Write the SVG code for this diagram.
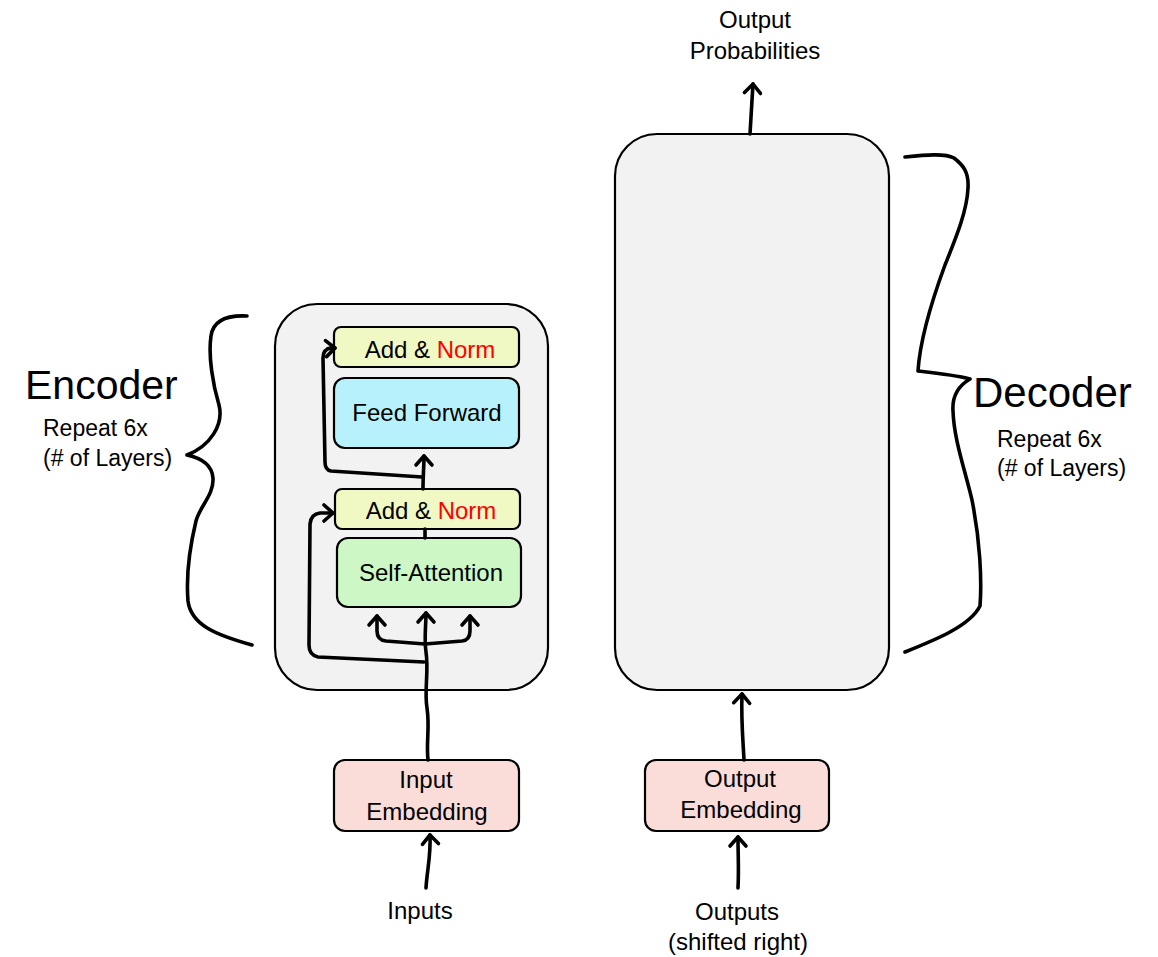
<svg xmlns="http://www.w3.org/2000/svg" width="1158" height="957" viewBox="0 0 1158 957">
  <style>
    text { font-family: "Liberation Sans", Arial, sans-serif; fill: #000; }
    .sm { font-size: 24px; text-anchor: middle; }
    .lab { font-size: 23px; }
    .big { font-size: 41px; }
    .red { fill: #ff0000; }
    .outer { fill: #f2f2f2; stroke: #000; stroke-width: 2.2; }
    .box { stroke: #000; stroke-width: 2.2; }
    .an { fill: #f0f8c4; }
    .ff { fill: #b7f1fb; }
    .sa { fill: #cdf8c5; }
    .emb { fill: #fadcd8; }
    .ink { fill: none; stroke: #000; stroke-width: 3.6; stroke-linecap: round; stroke-linejoin: round; }
  </style>
  <defs>
    <marker id="ah" markerUnits="userSpaceOnUse" markerWidth="20" markerHeight="20" refX="0" refY="0" viewBox="-12 -10 14 20" orient="auto" overflow="visible">
      <path d="M-9,-8 L0,0 L-9,8" fill="none" stroke="#000" stroke-width="3.6" stroke-linecap="round" stroke-linejoin="round"/>
    </marker>
  </defs>

  <rect width="1158" height="957" fill="#ffffff"/>

  <!-- Encoder container -->
  <g id="encoder">
    <rect class="outer" x="275" y="304" width="273" height="386" rx="42"/>
  </g>
  <!-- Decoder container -->
  <g id="decoder">
    <rect class="outer" x="615" y="134" width="274" height="556" rx="42"/>
  </g>

  <g id="addnorm2">
    <rect class="box an" x="334" y="327" width="185" height="40" rx="7"/>
    <text class="sm" x="430" y="358">Add &amp; <tspan class="red">Norm</tspan></text>
  </g>
  <g id="feedforward">
    <rect class="box ff" x="334" y="378" width="185" height="70" rx="11"/>
    <text class="sm" x="427" y="421">Feed Forward</text>
  </g>
  <g id="addnorm1">
    <rect class="box an" x="335" y="489" width="185" height="40" rx="7"/>
    <text class="sm" x="431" y="519">Add &amp; <tspan class="red">Norm</tspan></text>
  </g>
  <g id="selfattention">
    <rect class="box sa" x="337" y="538" width="184" height="69" rx="11"/>
    <text class="sm" x="431" y="581">Self-Attention</text>
  </g>

  <g id="inputembedding">
    <rect class="box emb" x="334" y="760" width="185" height="71" rx="11"/>
    <text class="sm" x="426" y="788">Input</text>
    <text class="sm" x="427" y="820">Embedding</text>
  </g>
  <g id="outputembedding">
    <rect class="box emb" x="645" y="760" width="184" height="71" rx="11"/>
    <text class="sm" x="740" y="787">Output</text>
    <text class="sm" x="741" y="818">Embedding</text>
  </g>

  <g id="inputs-label">
    <text class="sm" x="420" y="919">Inputs</text>
  </g>
  <g id="outputs-label">
    <text class="sm" x="737" y="920">Outputs</text>
    <text class="sm" x="738" y="950">(shifted right)</text>
  </g>
  <g id="probabilities-label">
    <text class="sm" x="755" y="28">Output</text>
    <text class="sm" x="755" y="59">Probabilities</text>
  </g>

  <g id="encoder-label">
    <text class="big" x="25" y="399">Encoder</text>
    <text class="lab" x="43" y="436">Repeat 6x</text>
    <text class="lab" x="43" y="466">(# of Layers)</text>
  </g>
  <g id="decoder-label">
    <text class="big" x="973" y="407" style="font-size:42px">Decoder</text>
    <text class="lab" x="997" y="447">Repeat 6x</text>
    <text class="lab" x="997" y="476">(# of Layers)</text>
  </g>

  <g id="connectors">
    <!-- main input line into self-attention -->
    <path class="ink" marker-end="url(#ah)" d="M428,760 C426,742 430,728 427,708 C424,690 429,672 426,652 C424,638 426,626 426,613"/>
    <!-- branches to K and V -->
    <path class="ink" marker-end="url(#ah)" d="M425,644 L386,641 Q377,640 377,631 L377,616"/>
    <path class="ink" marker-end="url(#ah)" d="M425,644 L462,641 Q470,640 470,631 L470,616"/>
    <!-- residual 1 -->
    <path class="ink" marker-end="url(#ah)" d="M424,662 L318,657 Q309,655 309,645 L310,524 Q311,514 320,513 L333,513"/>
    <!-- self-attention to add&norm -->
    <path class="ink" d="M425,538 L425,529"/>
    <!-- add&norm to feed forward -->
    <path class="ink" marker-end="url(#ah)" d="M423,489 C423,476 424,466 424,456"/>
    <!-- residual 2 -->
    <path class="ink" d="M422,477 L331,471 Q325,470 325,462 L323,358 Q323,349 331,348"/>
    <path class="ink" marker-end="url(#ah)" d="M328,348.5 L335,348"/>
    <!-- inputs to input embedding -->
    <path class="ink" marker-end="url(#ah)" d="M426,888 C427,870 431,856 430,835"/>
    <!-- outputs to output embedding -->
    <path class="ink" marker-end="url(#ah)" d="M738,888 C739,870 738,855 738,837"/>
    <!-- output embedding to decoder -->
    <path class="ink" marker-end="url(#ah)" d="M744,760 C743,740 741,720 742,694"/>
    <!-- decoder to output probabilities -->
    <path class="ink" marker-end="url(#ah)" d="M750,134 C751,115 752,100 753,84"/>
    <!-- encoder brace -->
    <path class="ink" d="M247,316 C226,315 213,321 211,336 C208,356 213,385 219,405 C224,425 210,446 187,455 C201,458 212,465 213,478 C214,495 200,506 196,521 C190,546 186,576 188,601 C191,625 216,635 252,645"/>
    <!-- decoder brace -->
    <path class="ink" d="M905,157 C925,155 945,153 954,158 C963,165 969,172 968,188 C967,212 955,240 945,265 C931,303 920,340 918,371 C936,373 955,375 970,379 C958,386 952,396 953,411 C954,440 965,470 972,500 C980,540 982,580 980,606 C970,626 935,640 905,652"/>
  </g>
</svg>
